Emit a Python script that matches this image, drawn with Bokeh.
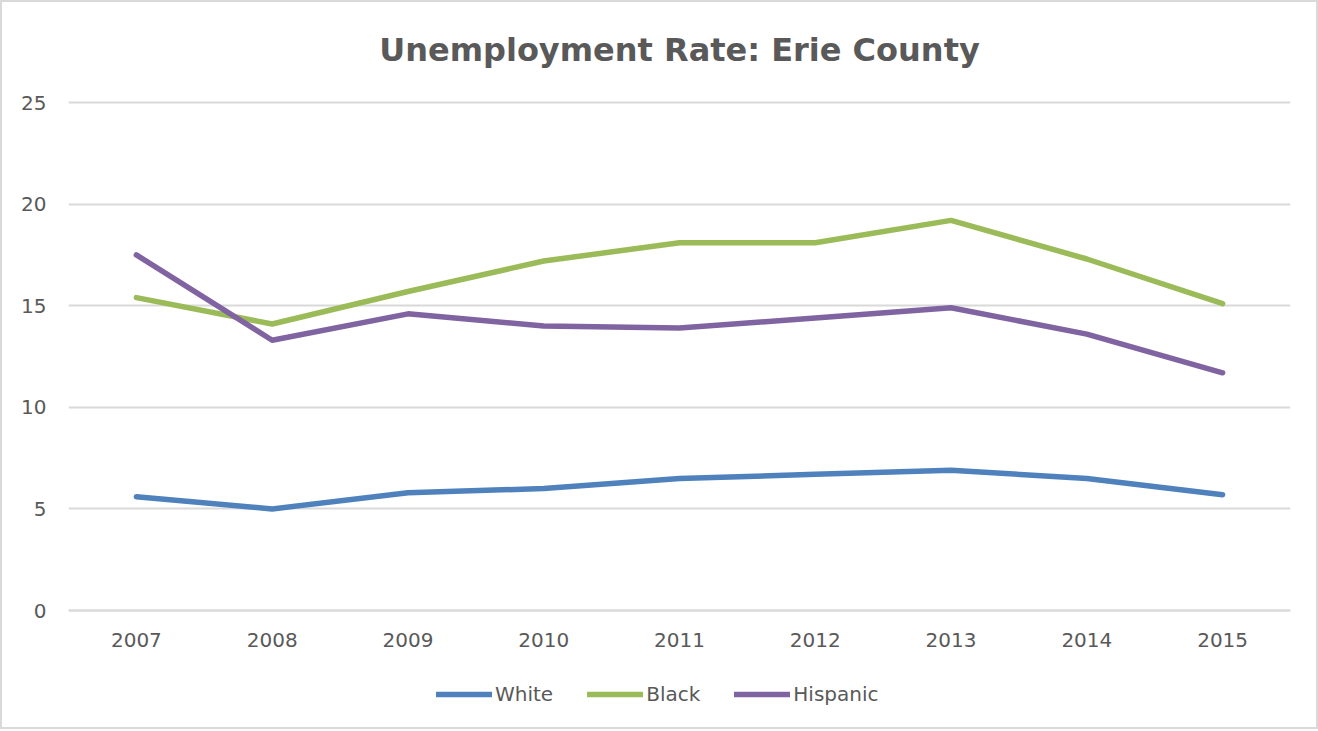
from bokeh.plotting import figure
from bokeh.embed import file_html
from bokeh.resources import INLINE
from bokeh.models import Legend, LegendItem, FixedTicker

years = ["2007", "2008", "2009", "2010", "2011", "2012", "2013", "2014", "2015"]
white = [5.6, 5.0, 5.8, 6.0, 6.5, 6.7, 6.9, 6.5, 5.7]
black = [15.4, 14.1, 15.7, 17.2, 18.1, 18.1, 19.2, 17.3, 15.1]
hispanic = [17.5, 13.3, 14.6, 14.0, 13.9, 14.4, 14.9, 13.6, 11.7]
y_ticks = [0, 5, 10, 15, 20, 25]

FONT = "DejaVu Sans"
TXT = "#595959"

# frame extends below the zero line so the category labels and legend sit inside it
p = figure(x_range=years, y_range=(-5.758, 25.1), output_backend="svg", toolbar_location=None,
           frame_width=1222, frame_height=627, min_border_left=66, min_border_right=26,
           min_border_top=98, min_border_bottom=0,
           title="Unemployment Rate: Erie County")
p.styles = {"border": "2px solid #d9d9d9"}
p.title.align = "center"
p.title.text_font = FONT
p.title.text_font_size = "32px"
p.title.text_font_style = "bold"
p.title.text_color = TXT
p.title.offset = 0
p.title.standoff = 0
p.title.padding = dict(left=0, right=0, top=0, bottom=32)

p.outline_line_color = None
p.xgrid.grid_line_color = None
p.ygrid.grid_line_color = "#d9d9d9"
p.ygrid.grid_line_width = 2
p.yaxis.ticker = FixedTicker(ticks=y_ticks)
p.yaxis.axis_line_color = None
p.yaxis.major_tick_line_color = None
p.yaxis.major_tick_out = 0
p.yaxis.minor_tick_line_color = None
p.yaxis.major_label_text_font = FONT
p.yaxis.major_label_text_font_size = "20px"
p.yaxis.major_label_text_color = TXT
p.yaxis.major_label_standoff = 22
p.xaxis.fixed_location = 0
p.xaxis.axis_line_color = "#d9d9d9"
p.xaxis.axis_line_width = 2
p.xaxis.major_tick_line_color = None
p.xaxis.major_tick_out = 0
p.xaxis.minor_tick_line_color = None
p.xaxis.major_label_text_font = FONT
p.xaxis.major_label_text_font_size = "20px"
p.xaxis.major_label_text_color = TXT
p.xaxis.major_label_standoff = 22

r1 = p.line(years, white, line_color="#4F81BD", line_width=5.5, line_cap="round", line_join="round")
r2 = p.line(years, black, line_color="#9BBB59", line_width=5.5, line_cap="round", line_join="round")
r3 = p.line(years, hispanic, line_color="#8064A2", line_width=5.5, line_cap="round", line_join="round")

legend = Legend(items=[LegendItem(label="White", renderers=[r1]),
                       LegendItem(label="Black", renderers=[r2]),
                       LegendItem(label="Hispanic", renderers=[r3])],
                orientation="horizontal", location=(368, 21),
                label_text_font=FONT, label_text_font_size="20px", label_text_color=TXT,
                glyph_width=56, glyph_height=22, label_standoff=3, spacing=34,
                border_line_color=None, background_fill_alpha=0, margin=0, padding=0)
p.add_layout(legend)

open("out.html", "w").write(file_html(p, INLINE))
